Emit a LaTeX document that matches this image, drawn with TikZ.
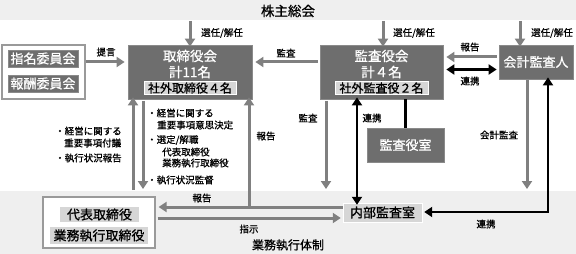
\documentclass[tikz,border=0pt]{standalone}
\usepackage{fontspec}
\setmainfont{Noto Sans CJK JP}[FakeBold=0.8]
\usetikzlibrary{arrows.meta}
\definecolor{band}{HTML}{EFEFEF}
\definecolor{dk}{HTML}{6E6E6E}
\definecolor{dkline}{HTML}{8A8A8A}
\definecolor{lt}{HTML}{D6D6D6}
\definecolor{ar}{HTML}{808080}
\definecolor{frame}{HTML}{9A9A9A}
\tikzset{
  darkbox/.style={fill=dk,draw=dkline,line width=0.8pt,text=white,inner sep=0pt,font=\fontsize{13}{15}\selectfont},
  lightbox/.style={fill=lt,draw=white,line width=0.8pt,text=black,inner sep=0pt,font=\fontsize{12}{14}\selectfont},
  framebox/.style={fill=white,draw=frame,line width=1.2pt,inner sep=0pt},
  intext/.style={text=white,inner sep=0pt,font=\fontsize{13.5}{15}\selectfont},
  lbl/.style={inner sep=0pt,font=\fontsize{9.5}{11}\selectfont},
  blt/.style={inner sep=0pt,anchor=west,font=\fontsize{9.5}{11}\selectfont},
  garrow/.style={draw=ar,line width=3pt,-{Triangle[length=8pt,width=10pt]}},
  barrow/.style={draw=black,line width=2.6pt,{Triangle[length=8pt,width=10pt]}-{Triangle[length=8pt,width=10pt]}},
}
\begin{document}
\begin{tikzpicture}[x=1pt,y=-1pt]
\useasboundingbox (0,0) rectangle (576,254);
% bands
\fill[band] (0,0) rectangle (576,20);
\fill[band] (0,191) rectangle (576,254);
\node[inner sep=0pt,font=\fontsize{13.5}{15}\selectfont] (gm) at (288,11) {株主総会};
\node[inner sep=0pt,font=\fontsize{12}{13}\selectfont] (exe) at (288,245) {業務執行体制};
\coordinate (s1) at (190,21);
\coordinate (s2) at (383,21);
\coordinate (s3) at (520,21);

% committees
\node[framebox,minimum width=83pt,minimum height=54pt] (cmt) at (43.5,72) {};
\node[darkbox,minimum width=70pt,minimum height=17pt] (shimei) at (43,58.5) {指名委員会};
\node[darkbox,minimum width=70pt,minimum height=17pt] (housyu) at (43,83.5) {報酬委員会};

% board of directors
\node[darkbox,minimum width=124pt,minimum height=54pt] (bd) at (190,72) {};
\node[intext] (bdt1) at (190,56) {取締役会};
\node[intext] (bdt2) at (190,72) {計11名};
\node[lightbox,minimum width=92pt,minimum height=13pt] (bdo) at (190,88) {社外取締役４名};

% audit board
\node[darkbox,minimum width=123pt,minimum height=54pt] (ab) at (381.5,72) {};
\node[intext] (abt1) at (381.5,56) {監査役会};
\node[intext] (abt2) at (381.5,72) {計４名};
\node[lightbox,minimum width=93pt,minimum height=13pt] (abo) at (381.5,88) {社外監査役２名};

% accounting auditor
\node[darkbox,minimum width=74pt,minimum height=34pt] (acc) at (536,62) {会計監査人};

% audit office
\node[darkbox,minimum width=77pt,minimum height=34pt] (aoff) at (405.5,145) {監査役室};

% internal audit
\node[fill=lt,draw=white,inner sep=0pt,minimum width=79pt,minimum height=19pt,font=\fontsize{13}{15}\selectfont] (ia) at (382.5,212.5) {内部監査室};

% executives
\node[framebox,minimum width=112pt,minimum height=51pt] (exb) at (99,222.5) {};
\node[fill=lt,inner sep=0pt,minimum width=79pt,minimum height=15pt,font=\fontsize{13}{15}\selectfont] (rep) at (99.5,214.5) {代表取締役};
\node[fill=lt,inner sep=0pt,minimum width=98pt,minimum height=17pt,font=\fontsize{13}{15}\selectfont] (exd) at (99,235.5) {業務執行取締役};

% shareholders -> bodies
\draw[garrow] (s1) -- ([yshift=-2pt]bd.north -| s1);
\draw[garrow] (s2) -- ([yshift=-2pt]ab.north -| s2);
\draw[garrow] (s3) -- ([yshift=-2pt]acc.north -| s3);
\node[lbl] (l1) at (222,33) {選任/解任};
\node[lbl] (l2) at (414,33) {選任/解任};
\node[lbl] (l3) at (552,33) {選任/解任};

% proposal
\draw[garrow] (cmt.east |- 0,62) -- ([xshift=-3pt]bd.west |- 0,62);
\node[lbl] (l4) at (106,52) {提言};

% audit arrow
\draw[garrow] ([xshift=-2pt]ab.west |- 0,62) -- ([xshift=3pt]bd.east |- 0,62);
\node[lbl] (l5) at (286,53) {監査};

% report / cooperation between audit board and accountant
\draw[garrow] ([xshift=-2pt]acc.west |- 0,57) -- ([xshift=3pt]ab.east |- 0,57);
\node[lbl] (l6) at (470,47) {報告};
\draw[barrow] ([xshift=3pt]ab.east |- 0,69.5) -- ([xshift=-2pt]acc.west |- 0,69.5);
\node[lbl] (l7) at (470,81) {連携};

% board <-> executives
\coordinate (bup) at (133,190);
\coordinate (bdn) at (143,101);
\coordinate (bdne) at (143,189);
\draw[garrow] (bup) -- ([yshift=2pt]bd.south -| bup);
\draw[garrow] (bdn) -- (bdne);
\node[blt] (b1) at (55,131) {・経営に関する};
\node[blt] (b2) at (64,143) {重要事項付議};
\node[blt] (b3) at (55,158) {・執行状況報告};
\node[blt] (c1) at (147,113) {・経営に関する};
\node[blt] (c2) at (157,125) {重要事項意思決定};
\node[blt] (c3) at (147,140) {・選定/解職};
\node[blt] (c4) at (162,152) {代表取締役};
\node[blt] (c5) at (162,163) {業務執行取締役};
\node[blt] (c6) at (147,180) {・執行状況監督};

% internal audit reports
\coordinate (rj) at (249,207);
\draw[garrow] (ia.west |- rj) -- ([xshift=3pt]exb.east |- rj);
\draw[garrow] (rj) -- ([yshift=2pt]bd.south -| rj);
\node[lbl] (l8) at (266,136) {報告};
\node[lbl] (l9) at (202,198) {報告};
\draw[garrow] ([xshift=2pt]exb.east |- 0,218) -- ([xshift=-2pt]ia.west |- 0,218);
\node[lbl] (l10) at (249,229) {指示};

% audit board -> internal audit
\coordinate (ma1) at (326,101);
\coordinate (ma2) at (326,189);
\draw[garrow] (ma1) -- (ma2);
\node[lbl] (l11) at (308,118) {監査};
\coordinate (rk) at (357,0);
\draw[barrow] ([yshift=2pt]ab.south -| rk) -- ([yshift=-2pt]ia.north -| rk);
\node[lbl] (l12) at (372,118) {連携};
\draw[black,line width=2.6pt] (ab.south -| aoff) -- (aoff.north);

% accountant
\coordinate (ka1) at (527,80);
\coordinate (ka2) at (527,189);
\draw[garrow] (ka1) -- (ka2);
\node[lbl] (l13) at (499,135) {会計監査};
\coordinate (cc) at (548,212);
\draw[barrow] ([xshift=2pt]ia.east |- cc) -- (cc) -- ([yshift=2pt]acc.south -| cc);
\node[lbl] (l14) at (486,224) {連携};
\end{tikzpicture}
\end{document}
